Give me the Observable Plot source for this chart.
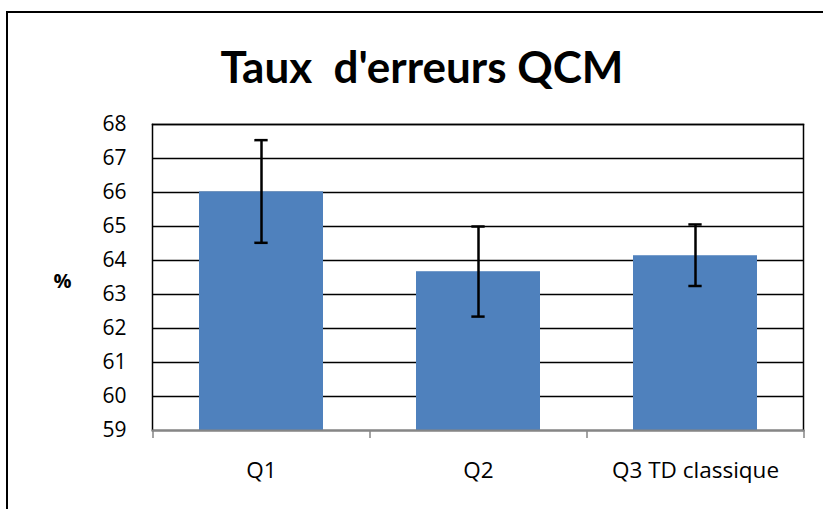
<!DOCTYPE html>
<html>
<head>
<meta charset="utf-8">
<script src="https://cdn.jsdelivr.net/npm/d3@7"></script>
<script src="https://cdn.jsdelivr.net/npm/@observablehq/plot@0.6"></script>
<style>
  html, body { margin: 0; padding: 0; background: #fff; overflow: hidden; width: 823px; height: 509px; }
  #frame { position: absolute; left: 6px; top: 11px; width: 900px; height: 600px;
           border-left: 2px solid #000; border-top: 2px solid #000; box-sizing: border-box; }
  #title { position: absolute; left: 0; top: 44px; width: 844px; text-align: center;
           font-family: Lato, "Open Sans", sans-serif; font-weight: 700; font-size: 44px;
           white-space: pre; color: #000; line-height: 1; }
  #chart { position: absolute; left: 0; top: 100px; }
  #chart svg text { font-family: "Open Sans", Lato, sans-serif; }
  #chart g[aria-label="y-axis tick label"] { font-size: 21px !important; }
  #chart g[aria-label="x-axis tick label"] { font-size: 22.5px !important; }
</style>
</head>
<body>
<div id="frame"></div>
<div id="title">Taux  d'erreurs QCM</div>
<div id="chart"></div>
<script>
const categories = ["Q1", "Q2", "Q3 TD classique"];
const values = [66.02, 63.67, 64.14];
const errLow = [64.52, 62.35, 63.25];
const errHigh = [67.54, 65.0, 65.06];
const yTicks = [59, 60, 61, 62, 63, 64, 65, 66, 67, 68];
const yLabel = "%";

const data = categories.map((c, i) => ({cat: c, value: values[i], lo: errLow[i], hi: errHigh[i]}));
const baseline = yTicks[0];

const W = 823, H = 409, ML = 152, MR = 20, MT = 24, MB = 79;
const step = (W - ML - MR) / categories.length;
const pInner = 0.43;
const bandW = step * (1 - pInner);
const capW = 13;
const capInset = (bandW - capW) / 2;

const chart = Plot.plot({
  width: W, height: H,
  marginLeft: ML, marginRight: MR, marginTop: MT, marginBottom: MB,
  style: {color: "#000", background: "transparent"},
  x: {domain: categories, paddingInner: pInner, paddingOuter: pInner / 2, label: null},
  y: {domain: [yTicks[0], yTicks[yTicks.length - 1]], ticks: yTicks, label: null},
  marks: [
    Plot.gridY(yTicks, {stroke: "#000", strokeOpacity: 1, strokeWidth: 1.5}),
    Plot.barY(data, {x: "cat", y1: () => baseline, y2: "value", fill: "#4F81BD"}),
    Plot.frame({anchor: "left", stroke: "#000", strokeWidth: 1.5}),
    Plot.frame({anchor: "right", stroke: "#000", strokeWidth: 1.5}),
    Plot.frame({anchor: "top", stroke: "#000", strokeWidth: 1.5}),
    Plot.frame({anchor: "bottom", stroke: "#868686", strokeWidth: 2}),
    Plot.axisY(yTicks, {tickSize: 0, tickPadding: 26, tickFormat: d => String(d)}),
    Plot.axisX({tickSize: 0, tickPadding: 32}),
    Plot.axisX(categories, {tickSize: 8, text: null, dx: -step / 2, stroke: "#868686", strokeWidth: 1.5}),
    Plot.axisX(categories.slice(-1), {tickSize: 8, text: null, dx: step / 2, stroke: "#868686", strokeWidth: 1.5}),
    Plot.ruleX(data, {x: "cat", y1: "lo", y2: "hi", stroke: "#000", strokeWidth: 2.5}),
    Plot.tickY(data, {x: "cat", y: "lo", stroke: "#000", strokeWidth: 2.5, insetLeft: capInset, insetRight: capInset}),
    Plot.tickY(data, {x: "cat", y: "hi", stroke: "#000", strokeWidth: 2.5, insetLeft: capInset, insetRight: capInset}),
    Plot.text([yLabel], {frameAnchor: "left", dx: -90, dy: 4, textAnchor: "middle", fontSize: 20, fontWeight: "bold"})
  ]
});
d3.select(chart).selectAll("text")
  .filter(function () { return this.textContent === yLabel; })
  .style("font-size", "20px").style("font-weight", "bold");
document.getElementById("chart").appendChild(chart);
</script>
</body>
</html>
